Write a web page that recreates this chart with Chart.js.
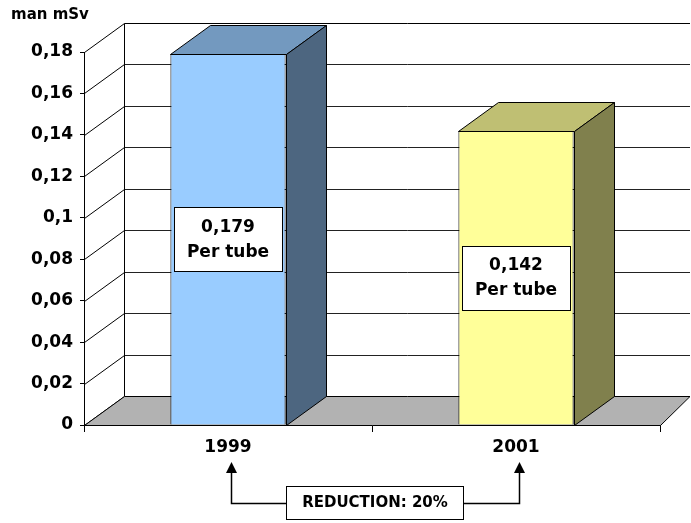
<!DOCTYPE html>
<html>
<head>
<meta charset="utf-8">
<script src="https://cdn.jsdelivr.net/npm/chart.js@4/dist/chart.umd.min.js"></script>
<style>
  html, body { margin: 0; padding: 0; background: #ffffff; }
  #wrap { width: 691px; height: 523px; }
</style>
</head>
<body>
<div id="wrap"><canvas id="c" width="691" height="523"></canvas></div>
<script>
// Collective dose per tube, by year
const categories = ['1999', '2001'];
const dosePerTube = [0.179, 0.142];
const yTickValues = [0, 0.02, 0.04, 0.06, 0.08, 0.1, 0.12, 0.14, 0.16, 0.18];
const unitLabel = 'man mSv';
const barNote = 'Per tube';
const reductionText = 'REDUCTION: 20%';

const frontColors = ['#99CCFF', '#FFFF99'];
const topColors = ['#7399BF', '#BFBF73'];
const sideColors = ['#4D6680', '#80804D'];

const DEPTH_X = 40, DEPTH_Y = -29;
const FONT = '"DejaVu Sans", Verdana, sans-serif';

const fmt = v => String(Math.round(v * 1000) / 1000).replace('.', ',');

function poly(ctx, pts, fill) {
  ctx.beginPath();
  ctx.moveTo(pts[0][0], pts[0][1]);
  for (let i = 1; i < pts.length; i++) ctx.lineTo(pts[i][0], pts[i][1]);
  ctx.closePath();
  if (fill) { ctx.fillStyle = fill; ctx.fill(); }
  ctx.stroke();
}

// Back wall, side wall grid and floor of the 3D frame
const frame3d = {
  id: 'frame3d',
  beforeDatasetsDraw(chart) {
    const { ctx, chartArea: a, scales: { y } } = chart;
    const wallRight = chart.width - 1;
    ctx.save();
    ctx.lineWidth = 1;
    const y0 = Math.round(y.getPixelForValue(0)) + 0.5;
    const yTop = Math.round(y.getPixelForValue(y.max)) + 0.5;
    const L = Math.round(a.left) + 0.5;
    yTickValues.forEach(v => {
      const py = Math.round(y.getPixelForValue(v)) + 0.5;
      ctx.strokeStyle = '#000';
      ctx.beginPath();
      ctx.moveTo(L, py);
      ctx.lineTo(L + DEPTH_X, py + DEPTH_Y);
      ctx.stroke();
      if (v > 0) {
        ctx.strokeStyle = v === y.max ? '#000' : '#222';
        ctx.beginPath();
        ctx.moveTo(L + DEPTH_X, py + DEPTH_Y);
        ctx.lineTo(wallRight, py + DEPTH_Y);
        ctx.stroke();
      }
    });
    ctx.strokeStyle = '#000';
    ctx.beginPath();
    ctx.moveTo(L + DEPTH_X, yTop + DEPTH_Y);
    ctx.lineTo(L + DEPTH_X, y0 + DEPTH_Y);
    ctx.stroke();
    const R = Math.round(a.right) + 0.5;
    poly(ctx, [[L, y0], [R, y0], [wallRight, y0 + DEPTH_Y], [L + DEPTH_X, y0 + DEPTH_Y]], '#B2B2B2');
    ctx.restore();
  },
  afterDatasetsDraw(chart) {
    const { ctx } = chart;
    const meta = chart.getDatasetMeta(0);
    ctx.save();
    ctx.lineWidth = 1;
    ctx.strokeStyle = '#000';
    meta.data.forEach((bar, i) => {
      const p = bar.getProps(['x', 'y', 'base', 'width'], true);
      const l = Math.round(p.x - p.width / 2) + 0.5;
      const r = Math.round(p.x + p.width / 2) + 0.5;
      const t = Math.round(p.y) + 0.5;
      const b = Math.round(p.base) + 0.5;
      poly(ctx, [[l, t], [r, t], [r + DEPTH_X, t + DEPTH_Y], [l + DEPTH_X, t + DEPTH_Y]], topColors[i]);
      poly(ctx, [[r, t], [r + DEPTH_X, t + DEPTH_Y], [r + DEPTH_X, b + DEPTH_Y], [r, b]], sideColors[i]);

      // value box on the bar face
      const cy = (p.y + p.base) / 2;
      const bw = 108, bh = 64;
      const bx = Math.round(p.x - bw / 2) + 0.5;
      const by = Math.round(cy - bh / 2) + 0.5;
      ctx.fillStyle = '#fff';
      ctx.fillRect(bx, by, bw, bh);
      ctx.strokeRect(bx, by, bw, bh);
      ctx.fillStyle = '#000';
      ctx.font = 'bold 17px ' + FONT;
      ctx.textAlign = 'center';
      ctx.textBaseline = 'middle';
      ctx.fillText(fmt(dosePerTube[i]), p.x, cy - 12);
      ctx.fillText(barNote, p.x, cy + 13);
    });
    ctx.restore();
  },
  afterDraw(chart) {
    const { ctx, scales: { x } } = chart;
    ctx.save();
    // unit label
    ctx.fillStyle = '#000';
    ctx.font = 'bold 15px ' + FONT;
    ctx.textAlign = 'left';
    ctx.textBaseline = 'middle';
    ctx.fillText(unitLabel, 11, 15);

    // reduction annotation linking the two years
    const ax1 = Math.round(x.getPixelForValue(0)) + 3.5;
    const ax2 = Math.round(x.getPixelForValue(1)) + 3.5;
    const boxL = 286.5, boxR = 463.5, boxT = 486.5, boxB = 519.5;
    const lineY = 503.5, tipY = 462, headY = 473;
    ctx.strokeStyle = '#000';
    ctx.lineWidth = 1.5;
    ctx.beginPath();
    ctx.moveTo(boxL, lineY); ctx.lineTo(ax1, lineY); ctx.lineTo(ax1, headY);
    ctx.moveTo(boxR, lineY); ctx.lineTo(ax2, lineY); ctx.lineTo(ax2, headY);
    ctx.stroke();
    ctx.fillStyle = '#000';
    [ax1, ax2].forEach(ax => {
      ctx.beginPath();
      ctx.moveTo(ax, tipY);
      ctx.lineTo(ax - 5.5, headY);
      ctx.lineTo(ax + 5.5, headY);
      ctx.closePath();
      ctx.fill();
    });
    ctx.lineWidth = 1;
    ctx.fillStyle = '#fff';
    ctx.fillRect(boxL, boxT, boxR - boxL, boxB - boxT);
    ctx.strokeRect(boxL, boxT, boxR - boxL, boxB - boxT);
    ctx.fillStyle = '#000';
    ctx.font = 'bold 15px ' + FONT;
    ctx.textAlign = 'center';
    ctx.textBaseline = 'middle';
    ctx.fillText(reductionText, (boxL + boxR) / 2, lineY);
    ctx.restore();
  }
};

new Chart(document.getElementById('c'), {
  type: 'bar',
  data: {
    labels: categories,
    datasets: [{
      data: dosePerTube,
      backgroundColor: frontColors,
      borderColor: '#000',
      borderWidth: 1,
      categoryPercentage: 1,
      barPercentage: 0.4
    }]
  },
  options: {
    responsive: false,
    animation: false,
    devicePixelRatio: 1,
    layout: { padding: { top: 52, right: 31, left: 0, bottom: 0 } },
    plugins: { legend: { display: false }, tooltip: { enabled: false }, title: { display: false } },
    scales: {
      x: {
        grid: { display: true, drawOnChartArea: false, color: '#000', tickLength: 7, offset: true },
        border: { display: true, color: '#000', width: 1 },
        ticks: { color: '#000', font: { family: FONT, size: 17, weight: 'bold' }, padding: 5 },
        afterFit: s => { s.height = 98; }
      },
      y: {
        min: 0,
        max: 0.18,
        afterBuildTicks: s => { s.ticks = yTickValues.map(v => ({ value: v })); },
        grid: { display: true, drawOnChartArea: false, color: '#000', tickLength: 4 },
        border: { display: true, color: '#000', width: 1 },
        ticks: {
          color: '#000',
          font: { family: FONT, size: 17, weight: 'bold' },
          padding: 7,
          callback: v => fmt(v)
        },
        afterFit: s => { s.width = 84; }
      }
    }
  },
  plugins: [frame3d]
});
</script>
</body>
</html>
